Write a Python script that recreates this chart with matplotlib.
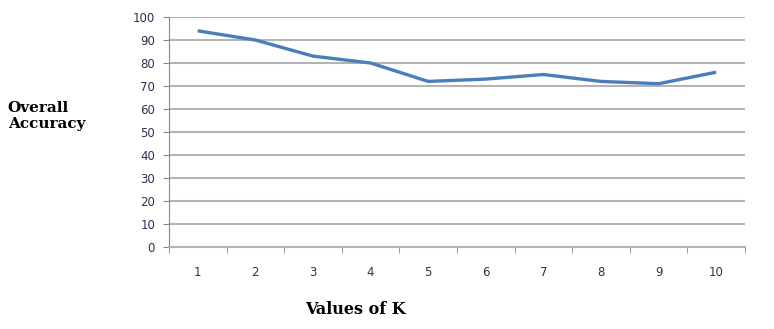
import matplotlib.pyplot as plt
import numpy as np

k_values = [1, 2, 3, 4, 5, 6, 7, 8, 9, 10]
accuracy = [94, 90, 83, 80, 72, 73, 75, 72, 71, 76]
y_ticks = [0, 10, 20, 30, 40, 50, 60, 70, 80, 90, 100]

fig = plt.figure(figsize=(7.74, 3.29), dpi=100)
ax = fig.add_axes([0.2183, 0.2492, 0.7442, 0.6991])

ax.plot(k_values, accuracy, color='#4A7EBB', linewidth=2.4, solid_capstyle='butt')

ax.set_xlim(0.5, 10.5)
ax.set_ylim(0, 100)
ax.set_yticks(y_ticks)
ax.set_xticks(k_values)
ax.set_xticks(np.arange(0.5, 11, 1.0), minor=True)

ax.grid(axis='y', color='#B4B4B4', linewidth=1.5)
ax.set_axisbelow(True)
for side in ['top', 'right']:
    ax.spines[side].set_visible(False)
ax.spines['left'].set_color('#888888')
ax.spines['bottom'].set_color('#B4B4B4')
ax.spines['bottom'].set_linewidth(1.5)

tick_color = '#2F2F55'
ax.tick_params(axis='x', which='major', length=0, pad=14, labelsize=8.5, labelcolor=tick_color)
ax.tick_params(axis='x', which='minor', length=4, color='#888888', direction='out')
ax.tick_params(axis='y', length=4, color='#888888', pad=6, labelsize=8.5, labelcolor=tick_color)

fig.text(0.010, 0.647, 'Overall\nAccuracy', family='DejaVu Serif', weight='bold',
         fontsize=11, ha='left', va='center', linespacing=1.2)
fig.text(0.459, 0.058, 'Values of K', family='DejaVu Serif', weight='bold',
         fontsize=11.5, ha='center', va='center')

fig.savefig('out.png', dpi=100)
